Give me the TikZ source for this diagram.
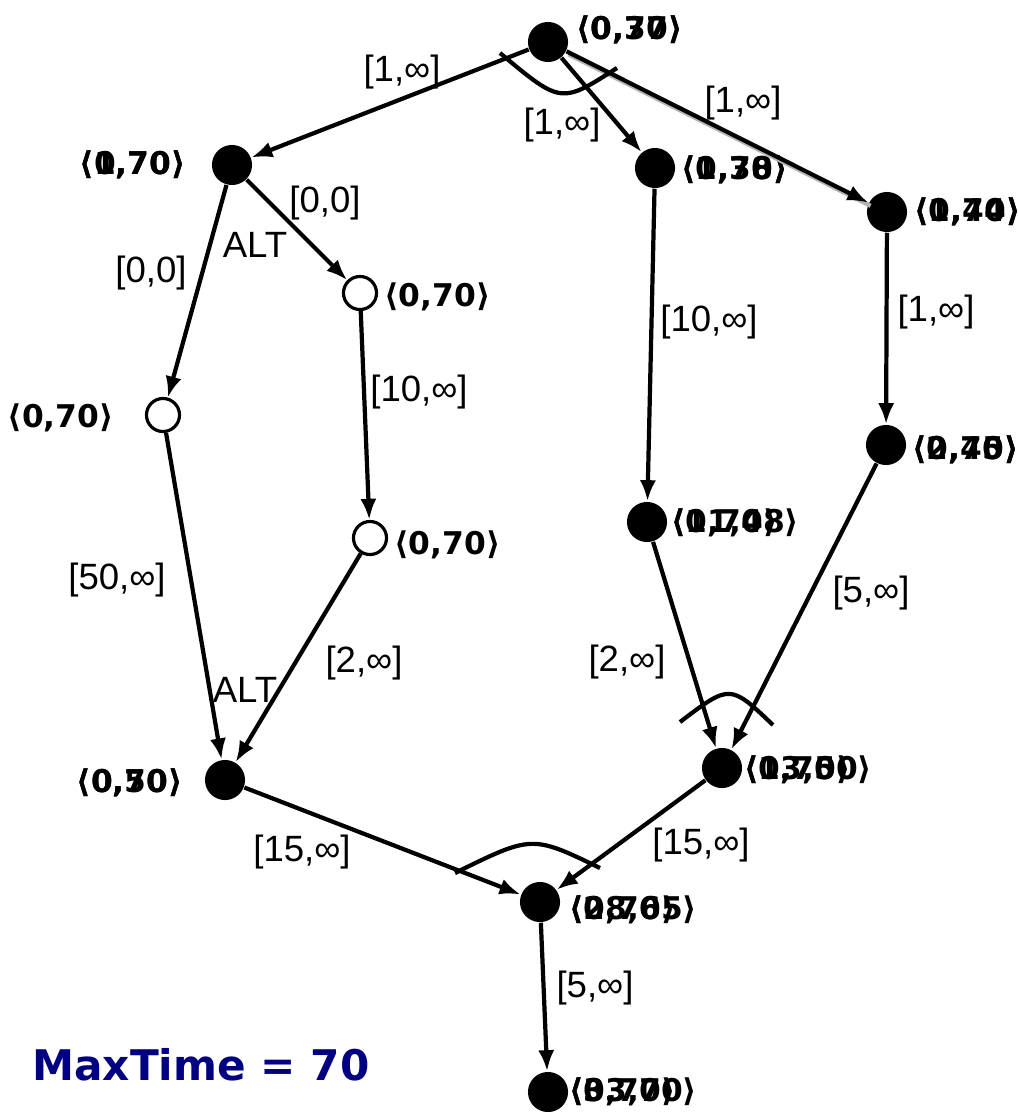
\documentclass[tikz,border=0pt]{standalone}
\usepackage{fontspec}
\setmainfont{Liberation Sans}
\newfontfamily\dvfont{DejaVu Sans}
\usetikzlibrary{arrows.meta}

% two frames of a label printed on top of each other
\newcommand{\twin}[2]{\rlap{#1}#2}

\tikzset{
  dot/.style={circle, fill=black, inner sep=0pt, minimum size=11.4pt},
  hole/.style={circle, draw=black, line width=0.9pt, fill=white, inner sep=0pt, minimum size=9.4pt},
  vlab/.style={font=\dvfont\bfseries\fontsize{8.9}{11}\selectfont, inner sep=0.5pt},
  elab/.style={font=\fontsize{10.4}{12}\selectfont, inner sep=1pt},
  link/.style={-{Latex[length=6pt,width=4.6pt]}, line width=1.2pt},
  andarc/.style={line width=1.2pt},
}

\begin{document}
\begin{tikzpicture}[x=0.01cm, y=-0.01cm]
  \useasboundingbox (0,0) rectangle (1017,1112);
  % time points
  \node[dot]  (top) at (548,42) {};
  \node[dot]  (pa)  at (232,165) {};
  \node[dot]  (pb)  at (655,168) {};
  \node[dot]  (pc)  at (887,212) {};
  \node[hole] (pd)  at (163,415) {};
  \node[hole] (pe)  at (360,293) {};
  \node[hole] (pg)  at (370,538) {};
  \node[dot]  (ph)  at (647,522) {};
  \node[dot]  (pi)  at (886,445) {};
  \node[dot]  (pf)  at (225,780) {};
  \node[dot]  (pk)  at (722,768) {};
  \node[dot]  (pj)  at (540,902) {};
  \node[dot]  (pl)  at (548,1092) {};
  % time windows
  \node[vlab, anchor=west] (wtop) at (574,30)   {\twin{⟨0,37⟩}{⟨0,70⟩}};
  \node[vlab, anchor=east] (wa)   at (188,165)  {\twin{⟨1,70⟩}{⟨0,70⟩}};
  \node[vlab, anchor=west] (wb)   at (679,170)  {\twin{⟨1,38⟩}{⟨0,70⟩}};
  \node[vlab, anchor=west] (wc)   at (912,212)  {\twin{⟨1,44⟩}{⟨0,70⟩}};
  \node[vlab, anchor=east] (wd)   at (116,418)  {⟨0,70⟩};
  \node[vlab, anchor=west] (we)   at (382,297)  {⟨0,70⟩};
  \node[vlab, anchor=west] (wg)   at (392,545)  {⟨0,70⟩};
  \node[vlab, anchor=west] (wh)   at (669,523)  {\twin{⟨11,48⟩}{⟨0,70⟩}};
  \node[vlab, anchor=west] (wi)   at (910,450)  {\twin{⟨2,45⟩}{⟨0,70⟩}};
  \node[vlab, anchor=east] (wf)   at (185,783)  {\twin{⟨0,50⟩}{⟨0,70⟩}};
  \node[vlab, anchor=west] (wk)   at (742,770)  {\twin{⟨13,50⟩}{⟨0,70⟩}};
  \node[vlab, anchor=west] (wj)   at (567,910)  {\twin{⟨28,65⟩}{⟨0,70⟩}};
  \node[vlab, anchor=west] (wl)   at (567,1092) {\twin{⟨33,70⟩}{⟨0,70⟩}};
  % constraints
  \draw[gray!60, line width=1.2pt, transform canvas={xshift=0.6pt, yshift=-0.9pt}] (top) -- (pc);
  \draw[link] (top) -- (pa);
  \draw[link] (top) -- (pb);
  \draw[link] (top) -- (pc);
  \draw[link] (pa) -- (pe);
  \draw[link] (pa) -- (pd);
  \draw[link] (pe) -- (pg);
  \draw[link] (pd) -- (pf);
  \draw[link] (pg) -- (pf);
  \draw[link] (pb) -- (ph);
  \draw[link] (pc) -- (pi);
  \draw[link] (ph) -- (pk);
  \draw[link] (pi) -- (pk);
  \draw[link] (pf) -- (pj);
  \draw[link] (pk) -- (pj);
  \draw[link] (pj) -- (pl);
  % bounds
  \node[elab] (btop-a) at (402,72)  {[1,∞]};
  \node[elab] (btop-b) at (562,125) {[1,∞]};
  \node[elab] (btop-c) at (743,103) {[1,∞]};
  \node[elab] (ba-e)   at (325,203) {[0,0]};
  \node[elab] (ba-d)   at (151,273) {[0,0]};
  \node[elab] (alt1)   at (255,245) {ALT};
  \node[elab] (be-g)   at (419,392) {[10,∞]};
  \node[elab] (bb-h)   at (709,322) {[10,∞]};
  \node[elab] (bc-i)   at (936,312) {[1,∞]};
  \node[elab] (bd-f)   at (117,580) {[50,∞]};
  \node[elab] (bg-f)   at (364,663) {[2,∞]};
  \node[elab] (alt2)   at (245,690) {ALT};
  \node[elab] (bh-k)   at (627,662) {[2,∞]};
  \node[elab] (bi-k)   at (871,593) {[5,∞]};
  \node[elab] (bf-j)   at (302,852) {[15,∞]};
  \node[elab] (bk-j)   at (701,845) {[15,∞]};
  \node[elab] (bj-l)   at (595,988) {[5,∞]};
  % conjunction arcs
  \coordinate (s1) at (500,53);  \coordinate (e1) at (617,68);
  \coordinate (s2) at (680,722); \coordinate (e2) at (773,725);
  \coordinate (s3) at (455,873); \coordinate (e3) at (600,868);
  \draw[andarc] (s1) .. controls (561,104) .. (e1);
  \draw[andarc] (s2) .. controls (730,684) .. (e2);
  \draw[andarc] (s3) .. controls (532,835) .. (e3);
  % horizon
  \node[font=\dvfont\bfseries\fontsize{12}{14}\selectfont, text={rgb,255:red,0;green,0;blue,128}]
    (horizon) at (201,1065) {MaxTime = 70};
\end{tikzpicture}
\end{document}
